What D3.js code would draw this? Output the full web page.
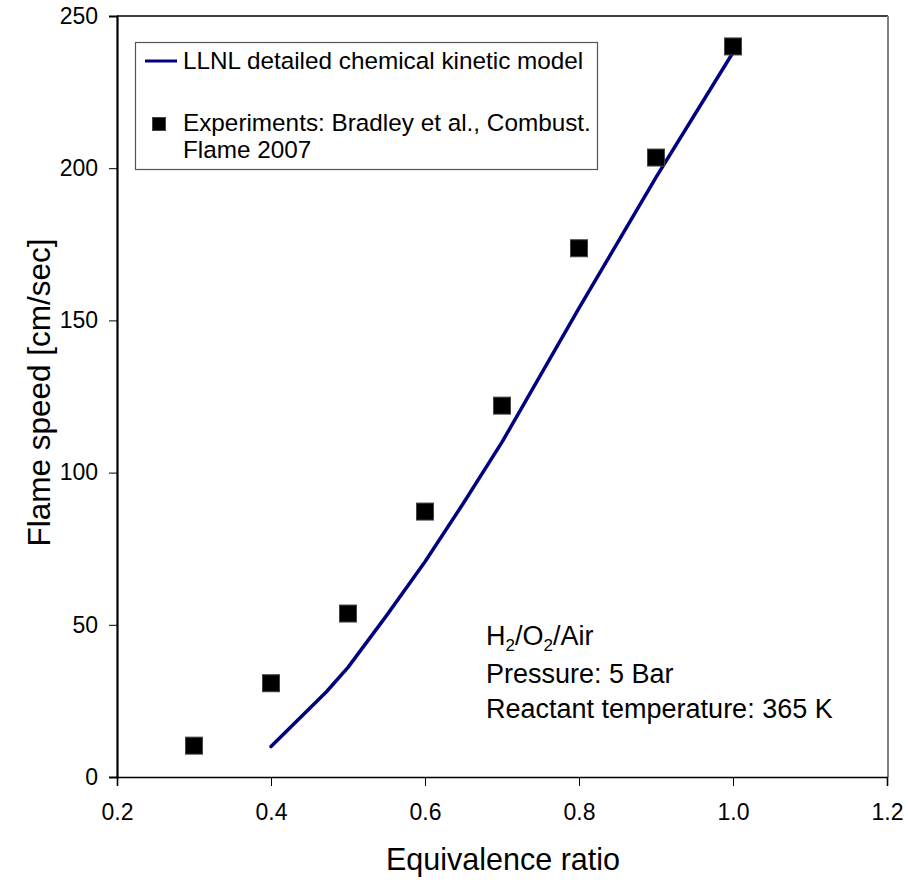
<!DOCTYPE html>
<html>
<head>
<meta charset="utf-8">
<script src="https://cdn.jsdelivr.net/npm/d3@7"></script>
<style>
  html, body { margin: 0; padding: 0; background: #fff; }
  svg { display: block; font-family: Arial, "Liberation Sans", sans-serif; }
</style>
</head>
<body>
<svg id="chart" width="908" height="886"></svg>
<script>
// Experimental laminar flame speeds (Bradley et al. 2007)
const expPhi = [0.3, 0.4, 0.5, 0.6, 0.7, 0.8, 0.9, 1.0];
const expSpeed = [10.3, 30.8, 53.7, 87.2, 122, 173.7, 203.5, 240];

// LLNL detailed kinetic model prediction
const modelPhi = [0.4, 0.45, 0.472, 0.5, 0.55, 0.6, 0.65, 0.7, 0.8, 0.9, 1.0];
const modelSpeed = [10, 22.5, 28, 36, 53, 70.7, 90, 110, 154, 197, 238];

const xTicks = [0.2, 0.4, 0.6, 0.8, 1.0, 1.2];
const yTicks = [0, 50, 100, 150, 200, 250];

(function draw() {
  const svg = d3.select("#chart");
  const plotL = 117, plotR = 887, plotT = 16, plotB = 777;

  const x = d3.scaleLinear().domain([0.2, 1.2]).range([plotL, plotR]);
  const y = d3.scaleLinear().domain([0, 250]).range([plotB, plotT]);

  // plot frame: top and right edges
  svg.append("line").attr("x1", plotL).attr("x2", plotR + 1).attr("y1", plotT).attr("y2", plotT)
    .attr("stroke", "#000").attr("stroke-width", 1.5);
  svg.append("line").attr("x1", plotR + 1).attr("x2", plotR + 1).attr("y1", plotT).attr("y2", plotB)
    .attr("stroke", "#808080").attr("stroke-width", 2);

  // axes
  const yAxis = svg.append("g").attr("transform", `translate(${plotL},0)`)
    .call(d3.axisLeft(y).tickValues(yTicks).tickSize(8).tickPadding(11).tickFormat(d3.format("d")));
  const xAxis = svg.append("g").attr("transform", `translate(0,${plotB})`)
    .call(d3.axisBottom(x).tickValues(xTicks).tickSize(9).tickPadding(18).tickFormat(d3.format(".1f")));

  [yAxis, xAxis].forEach(g => {
    g.selectAll("text").attr("font-size", 23).attr("fill", "#000")
      .attr("font-family", "Arial, 'Liberation Sans', sans-serif");
    g.selectAll(".tick line").attr("stroke", "#000").attr("stroke-width", 1);
  });
  yAxis.select(".domain").attr("stroke", "#000").attr("stroke-width", 2.2);
  xAxis.select(".domain").attr("stroke", "#000").attr("stroke-width", 1.6);

  // axis titles
  svg.append("text").attr("x", (plotL + plotR) / 2 + 1).attr("y", 870)
    .attr("text-anchor", "middle").attr("font-size", 30.5).text("Equivalence ratio");
  svg.append("text").attr("transform", `translate(50,${(plotT + plotB) / 2 - 4}) rotate(-90)`)
    .attr("text-anchor", "middle").attr("font-size", 31.5).text("Flame speed [cm/sec]");

  // model curve
  const line = d3.line().x((d, i) => x(modelPhi[i])).y(d => y(d));
  svg.append("path").datum(modelSpeed).attr("d", line)
    .attr("fill", "none").attr("stroke", "#000080").attr("stroke-width", 3.5)
    .attr("stroke-linejoin", "round").attr("stroke-linecap", "round");

  // experimental markers
  const sq = 17;
  svg.append("g").selectAll("rect").data(expSpeed).join("rect")
    .attr("x", (d, i) => x(expPhi[i]) - sq / 2)
    .attr("y", d => y(d) - sq / 2)
    .attr("width", sq).attr("height", sq)
    .attr("fill", "#000").attr("stroke", "#444").attr("stroke-width", 1);

  // legend
  const lg = svg.append("g");
  lg.append("rect").attr("x", 135.5).attr("y", 42.5).attr("width", 462).attr("height", 127)
    .attr("fill", "#fff").attr("stroke", "#555").attr("stroke-width", 1.2);
  lg.append("line").attr("x1", 145).attr("x2", 177).attr("y1", 61).attr("y2", 61)
    .attr("stroke", "#000080").attr("stroke-width", 3);
  lg.append("text").attr("x", 183).attr("y", 69).attr("font-size", 24.3)
    .text("LLNL detailed chemical kinetic model");
  lg.append("rect").attr("x", 152.5).attr("y", 117.5).attr("width", 13).attr("height", 13)
    .attr("fill", "#000").attr("stroke", "#444").attr("stroke-width", 1);
  lg.append("text").attr("x", 183).attr("y", 131).attr("font-size", 24.3)
    .text("Experiments: Bradley et al., Combust.");
  lg.append("text").attr("x", 183).attr("y", 158).attr("font-size", 24.3)
    .text("Flame 2007");

  // conditions note
  const note = svg.append("g").attr("font-size", 27);
  const h = note.append("text").attr("x", 486).attr("y", 645);
  h.append("tspan").text("H");
  h.append("tspan").attr("font-size", 17).attr("dy", 6).text("2");
  h.append("tspan").attr("dy", -6).text("/O");
  h.append("tspan").attr("font-size", 17).attr("dy", 6).text("2");
  h.append("tspan").attr("dy", -6).text("/Air");
  note.append("text").attr("x", 486).attr("y", 683).text("Pressure: 5 Bar");
  note.append("text").attr("x", 486).attr("y", 718).text("Reactant temperature: 365 K");
})();
</script>
</body>
</html>
